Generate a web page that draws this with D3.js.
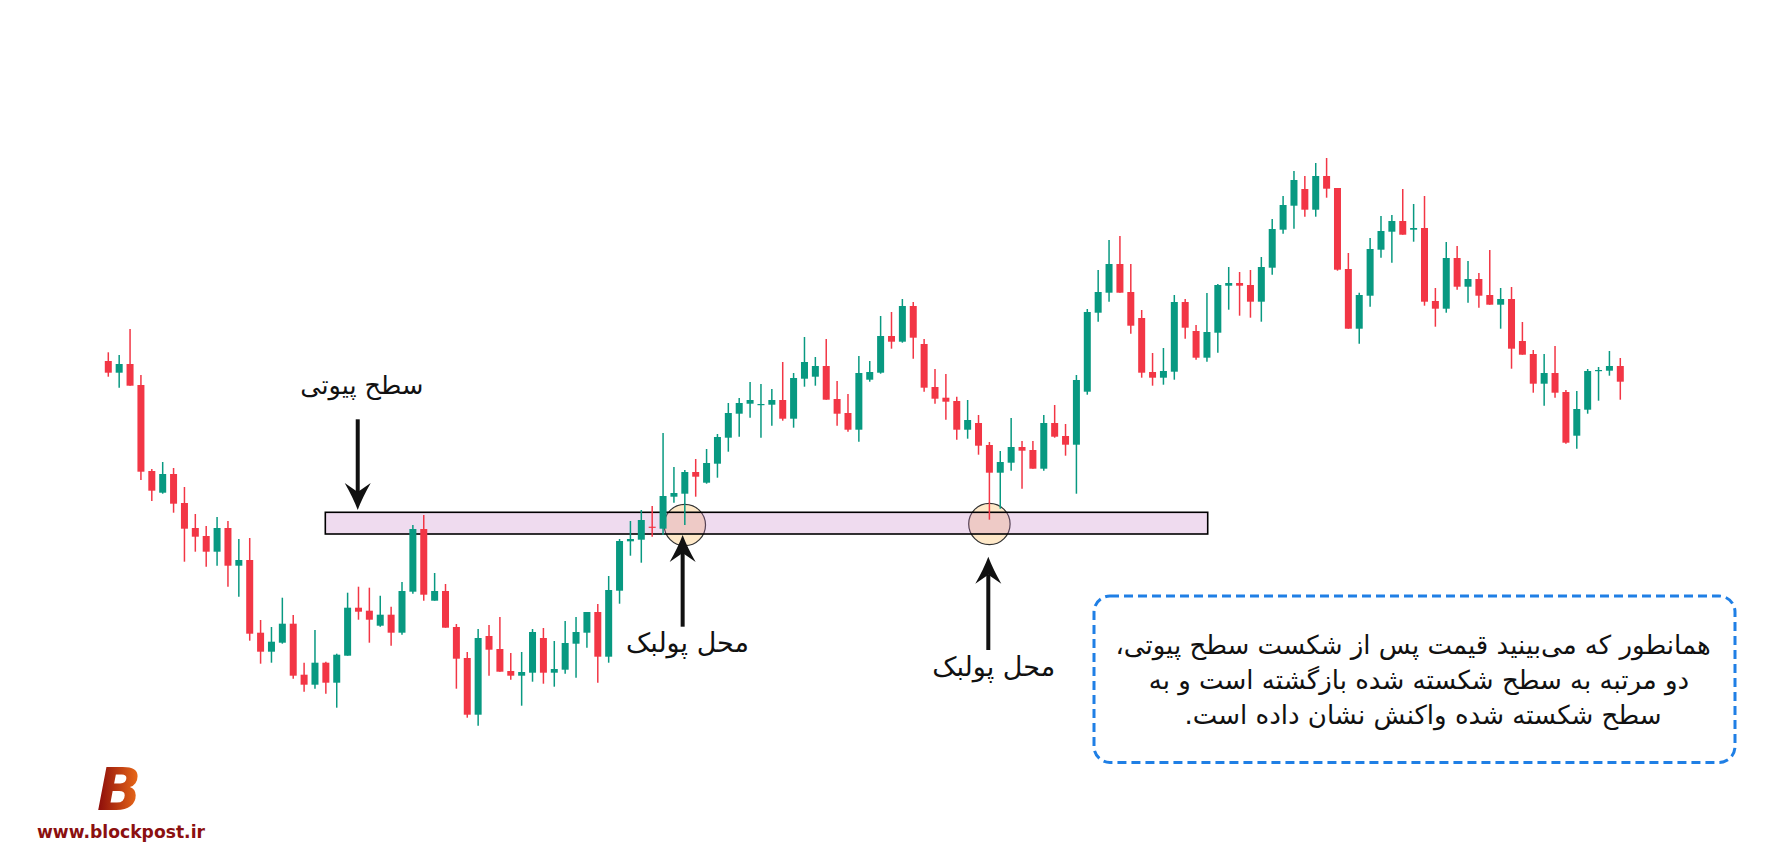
<!DOCTYPE html>
<html><head><meta charset="utf-8">
<script src="https://cdn.jsdelivr.net/npm/d3@7"></script>
<style>html,body{margin:0;padding:0;background:#fff;} svg{display:block;}</style>
</head><body>
<svg id="chart" width="1790" height="865"></svg>
<script>
// ---- data (prices) ----
const opens = [153.9,152.73,153.6,151.5,142.9,140.73,142.6,139.7,137.2,136.4,
134.83,137.2,133.43,134,126.73,124.83,125.73,127.63,122.53,121.53,
123.73,121.73,124.43,129.23,128.93,127.43,128.53,126.73,130.83,137.1,
129.93,130.9,127.3,124.2,118.53,126.4,125.1,122.9,122.43,122.73,
126.2,122.73,123.03,125.63,126.73,128.8,124.33,130.93,135.87,136.03,
137.33,137.13,140.33,140.63,142.8,141.73,143.63,146.23,148.63,149.63,
149.5,149.53,150,148.13,152.13,152.33,153.4,150.1,148.7,147.03,
152.03,152.73,156.4,155.83,159.4,155.6,151.3,150.23,149.9,147.03,
147.7,145.5,142.73,143.73,145.3,145,143.13,147.7,146.4,145.53,
150.83,158.73,160.73,163.6,160.8,158.2,152.8,152.23,152.83,159.8,
156.9,154.23,156.73,161.43,161.7,161.5,159.83,163.23,167.03,169.43,
171.1,169.03,172.4,171.2,163.1,157.13,160.43,165.03,166.83,167.9,
167.03,167.2,159.9,159.13,164.2,161.33,162.1,160.5,159.53,160.1,
155.9,154.6,151.63,152.7,150.8,146.43,149.03,152.93,152.93,153.4];
const highs = [154.77,154.5,157.1,152.5,143.1,143.8,143.2,141.3,138.6,137.4,
138.3,137.9,136.1,136.2,128,127.3,130.23,128.5,123.73,127,
123.83,124.63,130.73,131.33,131.23,130.43,129.33,131.8,137.5,138.5,
132.7,131.6,127.6,124.8,127.1,127.5,128.3,124.7,124.8,127.1,
127.2,125.9,127.9,128.3,128.8,129.6,132.4,136.1,137.9,139,
139.4,146.7,143.3,143,144.1,145.1,146.6,149.7,150.2,151.8,
151.6,151.1,153.8,152.7,156.3,154.3,156.1,151.9,150.6,154.4,
153.9,158.4,158.8,160.1,159.8,156.1,153.1,152.6,150.33,150,
148.5,145.8,144.9,148.2,145.9,145.9,148.5,149.5,147.6,152.5,
159.1,163,166,166.4,163.6,159,154.7,155.2,160.5,160.1,
157.5,160.7,161.6,163.3,162.8,163,164.3,168.1,170.4,172.9,
172.4,173.7,174.2,171.2,164.7,160.73,166.2,168.4,168.5,171.1,
169.6,170.4,161.2,165.8,165.4,163.9,162.7,165,161.2,161.3,
157.8,155,154.6,155.4,151,150.9,153.1,153.3,154.9,154.2];
const lows = [152.33,151.23,151.43,142,139.9,140.63,138.73,133.83,134.83,133.33,
133.43,131.33,130.33,125.93,123.63,123.73,125.63,122.13,120.83,121.13,
120.63,119.23,124.43,128.03,125.73,127.33,125.43,126.53,130.63,129.93,
129.93,127.23,121.13,118.23,117.43,122.43,122.83,122.03,119.43,121.83,
121.63,121.33,122.63,122.23,125.23,121.73,123.73,129.63,134.43,133.73,
136.33,136.5,139.73,137.5,140.33,141.63,142.23,144.83,146.33,148.23,
146.23,147.43,147.93,147.23,151.33,151.43,150.03,147.43,146.83,145.83,
151.83,152.63,155.13,155.73,154.13,150.83,149.63,148.03,146.03,146.13,
144.53,138.03,139.13,142.93,141.13,143.13,142.93,146.23,144.43,140.63,
150.53,157.83,159.83,160.73,156.63,152.23,151.43,151.53,152.03,156.13,
154.03,153.83,154.73,159.03,158.43,158.23,157.83,162.53,166.63,167.13,
168.33,168.33,170.23,162.93,157.13,155.63,159.33,164.23,163.73,166.53,
165.83,159.43,157.33,158.73,161.03,159.73,159.23,159.53,157.13,153.13,
154.53,150.73,149.43,150.23,145.63,145.13,148.63,149.93,152.43,150.03];
const closes = [152.73,153.6,151.43,142.83,140.93,142.6,139.63,137.13,136.33,134.83,
137.2,133.43,134,126.63,124.83,125.83,127.63,122.43,121.53,123.73,
121.73,124.53,129.23,128.83,128.03,128.53,126.73,130.9,137.1,130.53,
130.9,127.23,124.13,118.53,126.2,125.03,122.83,122.43,122.8,126.8,
122.73,123.1,125.7,126.8,128.8,124.33,131,135.9,136.1,138,
137.23,140.4,140.7,142.8,142.33,143.7,146.3,148.7,149.7,150,
149.6,150,148.13,152.2,153.8,153.4,150.03,148.63,147.03,152.7,
152.8,156.4,155.83,159.4,156.23,151.23,150.13,149.83,147.03,148,
145.43,142.73,143.8,145.3,144.93,143.13,147.7,146.33,145.53,152,
158.8,160.8,163.6,160.73,157.43,152.73,152.23,152.9,159.8,157.23,
154.23,156.8,161.5,161.7,161.43,159.83,163.3,167.1,169.5,172,
169.03,172.4,171.13,163.03,157.13,160.5,165.1,166.9,167.9,166.53,
167.2,159.83,159.13,164.2,161.33,162.1,160.43,159.53,160.1,155.13,
154.53,151.63,152.7,150.73,145.73,149.1,152.9,153,153.4,151.83];

// pivot zone: bar range and price band
const zoneBars = [20, 101];
const zonePrices = [136.6, 138.77];
// pullback touches: bar index and price
const pullbackBars = [53, 81];
const pullbackPrices = [137.5, 137.6];

const pivotLabel = "سطح پیوتی";
const pullbackLabel = "محل پولبک";
const noteLines = [
  "همانطور که می‌بینید قیمت پس از شکست سطح پیوتی،",
  "دو مرتبه به سطح شکسته شده بازگشته است و به",
  "سطح شکسته شده واکنش نشان داده است."
];
const siteText = "www.blockpost.ir";

// ---- drawing ----
const svg = d3.select("#chart");
const W = 1790, H = 865;
const x = d3.scaleLinear().domain([0, opens.length - 1]).range([108.3, 1620.3]);
const y = d3.scaleLinear().domain([103.5, 190]).range([H, 0]);

const UP = "#089981", DOWN = "#f23645";
const candles = d3.range(opens.length).map(i => ({i, o: opens[i], h: highs[i], l: lows[i], c: closes[i]}));

// pullback circles (under the zone)
svg.append("g").selectAll("circle").data(pullbackBars).join("circle")
  .attr("cx", d => x(d))
  .attr("cy", (d, k) => y(pullbackPrices[k]))
  .attr("r", 20.7)
  .attr("fill", "#fee8c8")
  .attr("stroke", "#333")
  .attr("stroke-width", 1.2);

// pivot zone
svg.append("rect")
  .attr("x", x(zoneBars[0] - 0.05))
  .attr("y", y(zonePrices[1]))
  .attr("width", x(zoneBars[1] + 0.07) - x(zoneBars[0] - 0.05))
  .attr("height", y(zonePrices[0]) - y(zonePrices[1]))
  .attr("fill", "rgba(190,110,190,0.25)")
  .attr("stroke", "#000")
  .attr("stroke-width", 1.6);

// candles
const cg = svg.append("g");
cg.selectAll("line").data(candles).join("line")
  .attr("x1", d => x(d.i)).attr("x2", d => x(d.i))
  .attr("y1", d => y(d.h)).attr("y2", d => y(d.l))
  .attr("stroke", d => d.c >= d.o ? UP : DOWN)
  .attr("stroke-width", 1.5);
cg.selectAll("rect").data(candles).join("rect")
  .attr("x", d => x(d.i) - 3.5)
  .attr("width", 7)
  .attr("y", d => y(Math.max(d.o, d.c)))
  .attr("height", d => Math.max(1.2, Math.abs(y(d.o) - y(d.c))))
  .attr("fill", d => d.c >= d.o ? UP : DOWN);

// arrows
function arrow(tx, ty, tailY) {
  const dir = tailY < ty ? 1 : -1; // 1: pointing down
  const L = 27, Wd = 13, N = 9;
  const baseY = ty - dir * L, notchY = ty - dir * (L - N);
  const g = svg.append("g");
  g.append("line").attr("x1", tx).attr("x2", tx).attr("y1", tailY).attr("y2", notchY)
    .attr("stroke", "#111").attr("stroke-width", 4);
  g.append("path")
    .attr("d", `M${tx},${ty} Q${tx - Wd * 0.35},${ty - dir * L * 0.45} ${tx - Wd},${baseY} L${tx},${notchY} L${tx + Wd},${baseY} Q${tx + Wd * 0.35},${ty - dir * L * 0.45} ${tx},${ty} Z`)
    .attr("fill", "#111");
}
arrow(x(22.93), y(139.0), y(148.07));
arrow(x(52.8), y(136.5), y(127.33));
arrow(x(80.9), y(134.33), y(125.0));

const faFont = "'DejaVu Sans', sans-serif";
svg.append("text").attr("x", x(23.3)).attr("y", y(150.65))
  .attr("text-anchor", "middle").attr("font-family", faFont).attr("font-size", 25.5)
  .attr("direction", "rtl").attr("fill", "#111").text(pivotLabel);
svg.append("text").attr("x", x(53.25)).attr("y", y(124.8))
  .attr("text-anchor", "middle").attr("font-family", faFont).attr("font-size", 27)
  .attr("direction", "rtl").attr("fill", "#111").text(pullbackLabel);
svg.append("text").attr("x", x(81.4)).attr("y", y(122.45))
  .attr("text-anchor", "middle").attr("font-family", faFont).attr("font-size", 27)
  .attr("direction", "rtl").attr("fill", "#111").text(pullbackLabel);

// note box
svg.append("rect").attr("x", 1094).attr("y", 596).attr("width", 641).attr("height", 166.5)
  .attr("rx", 16).attr("ry", 16).attr("fill", "#fff")
  .attr("stroke", "#1f7fe5").attr("stroke-width", 3).attr("stroke-dasharray", "9,5");
const noteX = [1413, 1419, 1423];
svg.append("g").selectAll("text").data(noteLines).join("text")
  .attr("x", (d, k) => noteX[k]).attr("y", (d, k) => 654 + k * 34.8)
  .attr("text-anchor", "middle").attr("direction", "rtl")
  .attr("font-family", faFont).attr("font-size", 26).attr("fill", "#111")
  .text(d => d);

// logo
const defs = svg.append("defs");
const grad = defs.append("linearGradient").attr("id", "lg").attr("x1", "0").attr("x2", "1").attr("y1", "0").attr("y2", "0");
grad.append("stop").attr("offset", "0").attr("stop-color", "#8a0a0a");
grad.append("stop").attr("offset", "1").attr("stop-color", "#f0701a");
svg.append("text").attr("x", 97).attr("y", 810).attr("font-family", "'DejaVu Sans', sans-serif")
  .attr("font-weight", 900).attr("font-style", "italic").attr("font-size", 58)
  .attr("fill", "url(#lg)").text("B");
svg.append("text").attr("x", 37).attr("y", 838).attr("font-family", "'DejaVu Sans', sans-serif")
  .attr("font-weight", 700).attr("font-size", 17).attr("fill", "#8b1010")
  .attr("textLength", 168).attr("lengthAdjust", "spacingAndGlyphs").text(siteText);
</script>
</body></html>
